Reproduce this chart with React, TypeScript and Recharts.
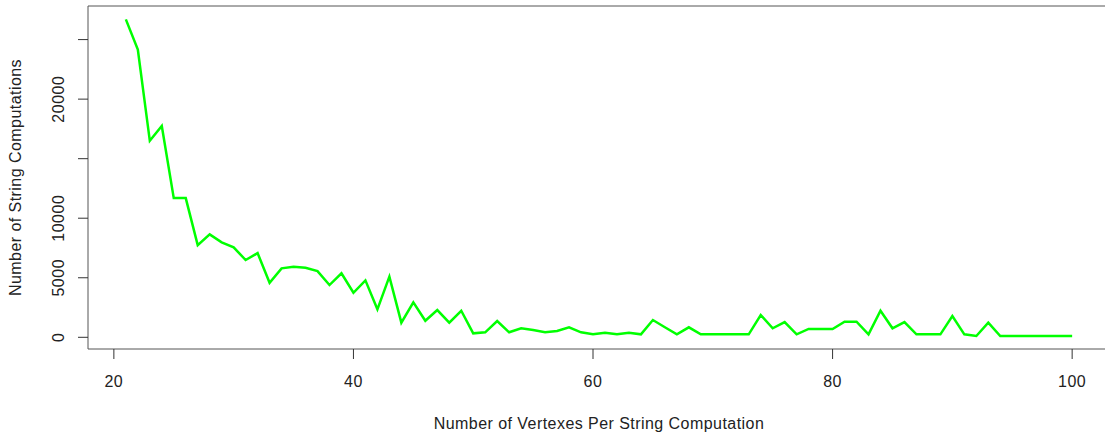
import { LineChart, Line, XAxis, YAxis, ReferenceArea, Label } from 'recharts'

// vertexes per string computation -> number of string computations
const vertexes = [
  21, 22, 23, 24, 25, 26, 27, 28, 29, 30, 31, 32, 33, 34, 35, 36, 37, 38, 39, 40,
  41, 42, 43, 44, 45, 46, 47, 48, 49, 50, 51, 52, 53, 54, 55, 56, 57, 58, 59, 60,
  61, 62, 63, 64, 65, 66, 67, 68, 69, 70, 71, 72, 73, 74, 75, 76, 77, 78, 79, 80,
  81, 82, 83, 84, 85, 86, 87, 88, 89, 90, 91, 92, 93, 94, 95, 96, 97, 98, 99, 100,
]
const computations = [
  26700, 24160, 16500, 17750, 11690, 11690, 7740, 8640, 7970, 7550,
  6490, 7070, 4580, 5790, 5920, 5840, 5560, 4390, 5370, 3740,
  4780, 2350, 5090, 1230, 2940, 1390, 2290, 1230, 2230, 335,
  420, 1370, 420, 755, 610, 420, 530, 840, 420, 250,
  390, 250, 390, 250, 1450, 840, 250, 840, 250, 250,
  250, 250, 250, 1870, 755, 1280, 250, 700, 700, 700,
  1310, 1310, 250, 2230, 755, 1280, 250, 250, 250, 1790,
  250, 110, 1230, 110, 110, 110, 110, 110, 110, 110,
]
const xTicks = [20, 40, 60, 80, 100]
const yTicks = [0, 5000, 10000, 15000, 20000, 25000]
const yLabelled = [0, 5000, 10000, 20000] // R drops 15000 / 25000 (overlap)

const X_DOMAIN: [number, number] = [17.84, 103.16]
const Y_DOMAIN: [number, number] = [-982, 27820]

const data = vertexes.map((v, i) => ({ v, n: computations[i] }))

const FONT = '"Liberation Sans", Arial, sans-serif'
const INK = '#222'

function XTick({ x, y, payload }: any) {
  return (
    <text x={x} y={y + 11.5} textAnchor="middle" fontSize={16} letterSpacing={0.5} fontFamily={FONT} fill={INK}>
      {payload.value}
    </text>
  )
}

function YTick({ x, y, payload }: any) {
  if (!yLabelled.includes(payload.value)) return null
  return (
    <text
      x={x} y={y}
      transform={`rotate(-90, ${x}, ${y})`}
      textAnchor="middle" fontSize={16} letterSpacing={0.5} fontFamily={FONT} fill={INK}
    >
      {payload.value}
    </text>
  )
}

export default function App() {
  return (
    <div style={{ position: 'absolute', left: 0, top: 0, width: 1105, height: 434, overflow: 'hidden', background: '#fff' }}>
      <LineChart width={1110} height={434} data={data} margin={{ top: 6, right: 0, bottom: 0, left: 0 }}>
        <XAxis
          dataKey="v" type="number" domain={X_DOMAIN} ticks={xTicks} allowDataOverflow
          height={85} axisLine={false} tickSize={10} tickMargin={16}
          tickLine={{ stroke: '#333' }} tick={<XTick />} interval={0}
        >
          <Label
            content={({ viewBox }: any) => (
              <text
                x={viewBox.x + viewBox.width / 2} y={viewBox.y + 79.5}
                textAnchor="middle" fontSize={16} letterSpacing={0.45} fontFamily={FONT} fill={INK}
              >
                Number of Vertexes Per String Computation
              </text>
            )}
          />
        </XAxis>
        <YAxis
          type="number" domain={Y_DOMAIN} ticks={yTicks} allowDataOverflow
          width={88} axisLine={false} tickSize={10} tickMargin={14}
          tickLine={{ stroke: '#333' }} tick={<YTick />} interval={0}
        >
          <Label
            content={({ viewBox }: any) => {
              const cx = 21
              const cy = viewBox.y + viewBox.height / 2
              return (
                <text
                  x={cx} y={cy} transform={`rotate(-90, ${cx}, ${cy})`}
                  textAnchor="middle" fontSize={16} letterSpacing={0.45} fontFamily={FONT} fill={INK}
                >
                  Number of String Computations
                </text>
              )
            }}
          />
        </YAxis>
        <Line
          dataKey="n" type="linear" stroke="#00ff00" strokeWidth={2.5}
          dot={false} activeDot={false} isAnimationActive={false}
        />
        <ReferenceArea
          x1={X_DOMAIN[0]} x2={X_DOMAIN[1]} y1={Y_DOMAIN[0]} y2={Y_DOMAIN[1]}
          fill="none" stroke="#555" strokeWidth={1} ifOverflow="visible"
        />
      </LineChart>
    </div>
  )
}
